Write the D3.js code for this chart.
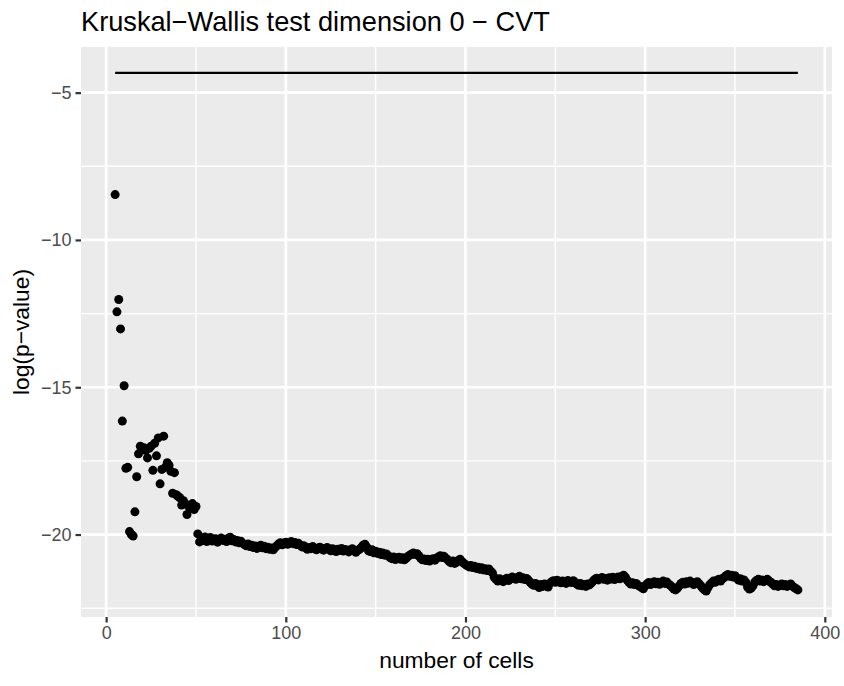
<!DOCTYPE html>
<html>
<head>
<meta charset="utf-8">
<script src="https://cdn.jsdelivr.net/npm/d3@7"></script>
<style>
  body { margin: 0; background: #fff; }
  svg { font-family: "Liberation Sans", Arial, Helvetica, sans-serif; }
</style>
</head>
<body>
<svg id="chart"></svg>
<script>
const title = 'Kruskal\u2212Wallis test dimension 0 \u2212 CVT';
const xLabel = 'number of cells';
const yLabel = 'log(p\u2212value)';

// number of cells goes 5..385, one point each
const cells = d3.range(5, 386);
const logP = [
  -8.46, -12.44, -12.02, -13.02, -16.15, -14.95, -17.75, -17.72, -19.90, -20.00,
  -20.05, -19.23, -18.04, -17.26, -17.00, -17.10, -17.05, -17.15, -17.40, -17.07,
  -17.00, -17.82, -16.90, -17.33, -16.72, -18.28, -17.79, -16.66, -17.71, -17.56,
  -17.65, -17.85, -18.60, -17.90, -18.65, -18.70, -18.75, -19.00, -18.85, -18.95,
  -19.32, -19.05, -19.10, -18.95, -19.15, -19.05, -19.98, -20.25, -20.12, -20.20,
  -20.08, -20.24, -20.15, -20.10, -20.22, -20.18, -20.14, -20.26, -20.19, -20.12,
  -20.20, -20.16, -20.24, -20.13, -20.09, -20.21, -20.17, -20.25, -20.20, -20.28,
  -20.23, -20.30, -20.34, -20.38, -20.32, -20.41, -20.36, -20.44, -20.39, -20.47,
  -20.42, -20.36, -20.45, -20.40, -20.48, -20.43, -20.50, -20.46, -20.52, -20.44,
  -20.38, -20.32, -20.28, -20.35, -20.30, -20.26, -20.33, -20.29, -20.24, -20.31,
  -20.27, -20.34, -20.30, -20.36, -20.42, -20.38, -20.45, -20.50, -20.44, -20.48,
  -20.41, -20.47, -20.52, -20.46, -20.43, -20.49, -20.53, -20.47, -20.44, -20.50,
  -20.55, -20.48, -20.52, -20.58, -20.50, -20.54, -20.47, -20.56, -20.51, -20.53,
  -20.59, -20.52, -20.48, -20.55, -20.60, -20.54, -20.50, -20.45, -20.36, -20.33,
  -20.42, -20.55, -20.58, -20.52, -20.62, -20.57, -20.64, -20.60, -20.68, -20.63,
  -20.70, -20.66, -20.72, -20.78, -20.82, -20.76, -20.85, -20.80, -20.77, -20.84,
  -20.79, -20.86, -20.81, -20.74, -20.70, -20.66, -20.63, -20.68, -20.65, -20.72,
  -20.80, -20.86, -20.83, -20.88, -20.84, -20.90, -20.85, -20.82, -20.87, -20.80,
  -20.76, -20.72, -20.78, -20.74, -20.80, -20.85, -20.92, -20.96, -20.90, -20.98,
  -20.94, -20.88, -20.84, -20.92, -20.97, -21.02, -21.06, -21.10, -21.05, -21.12,
  -21.08, -21.15, -21.11, -21.18, -21.13, -21.20, -21.16, -21.22, -21.17, -21.24,
  -21.30, -21.45, -21.52, -21.58, -21.50, -21.55, -21.60, -21.53, -21.48, -21.56,
  -21.50, -21.44, -21.49, -21.52, -21.46, -21.42, -21.50, -21.47, -21.53, -21.49,
  -21.55, -21.62, -21.68, -21.72, -21.66, -21.74, -21.80, -21.70, -21.76, -21.68,
  -21.73, -21.78, -21.65, -21.60, -21.57, -21.62, -21.55, -21.59, -21.64, -21.58,
  -21.61, -21.66, -21.56, -21.60, -21.63, -21.57, -21.62, -21.68, -21.72, -21.66,
  -21.74, -21.70, -21.76, -21.68, -21.71, -21.65, -21.58, -21.52, -21.48, -21.54,
  -21.50, -21.46, -21.52, -21.49, -21.55, -21.47, -21.51, -21.45, -21.53, -21.48,
  -21.44, -21.50, -21.42, -21.38, -21.45, -21.55, -21.62, -21.68, -21.64, -21.70,
  -21.66, -21.72, -21.76, -21.80, -21.84, -21.74, -21.68, -21.63, -21.70, -21.65,
  -21.60, -21.67, -21.62, -21.69, -21.64, -21.58, -21.66, -21.61, -21.68, -21.72,
  -21.78, -21.85, -21.88, -21.82, -21.74, -21.66, -21.62, -21.68, -21.60, -21.65,
  -21.58, -21.63, -21.70, -21.64, -21.60, -21.67, -21.74, -21.82, -21.88, -21.92,
  -21.80, -21.70, -21.64, -21.58, -21.62, -21.55, -21.52, -21.58, -21.50, -21.46,
  -21.40, -21.36, -21.42, -21.38, -21.44, -21.40, -21.48, -21.55, -21.50, -21.58,
  -21.54, -21.62, -21.78, -21.85, -21.82, -21.74, -21.62, -21.56, -21.52, -21.58,
  -21.54, -21.60, -21.55, -21.52, -21.58, -21.62, -21.68, -21.74, -21.70, -21.76,
  -21.72, -21.68, -21.74, -21.70, -21.76, -21.72, -21.68, -21.75, -21.80, -21.84,
  -21.88
];
// horizontal reference line
const refLine = -4.33;

const xTicks = [0, 100, 200, 300, 400];
const xMinor = [50, 150, 250, 350];
const yTicks = [-20, -15, -10, -5];
const yMinor = [-22.5, -17.5, -12.5, -7.5];

const width = 844, height = 686;
const panel = { left: 81, right: 832, top: 47, bottom: 617 };

const data = cells.map((c, i) => ({ n: c, v: logP[i] }));

//set up container
const svg = d3.select('#chart')
  .attr('width', width)
  .attr('height', height);

svg.append('rect').attr('width', width).attr('height', height).attr('fill', '#fff');

//set up scaling (ggplot style 5% expansion)
const xExt = d3.extent(cells);
const xPad = (xExt[1] - xExt[0]) * 0.05;
const yExt = d3.extent(logP.concat([refLine]));
const yPad = (yExt[1] - yExt[0]) * 0.05;
const xscale = d3.scaleLinear().domain([xExt[0] - xPad, xExt[1] + xPad]).range([panel.left, panel.right]);
const yscale = d3.scaleLinear().domain([yExt[0] - yPad, yExt[1] + yPad]).range([panel.bottom, panel.top]);

//panel background
svg.append('rect')
  .attr('x', panel.left).attr('y', panel.top)
  .attr('width', panel.right - panel.left)
  .attr('height', panel.bottom - panel.top)
  .attr('fill', '#EBEBEB');

//grid lines
const grid = svg.append('g');
grid.selectAll('.vminor').data(xMinor).enter().append('line')
  .attr('x1', d => xscale(d)).attr('x2', d => xscale(d))
  .attr('y1', panel.top).attr('y2', panel.bottom)
  .attr('stroke', '#fff').attr('stroke-width', 1.4);
grid.selectAll('.hminor').data(yMinor).enter().append('line')
  .attr('y1', d => yscale(d)).attr('y2', d => yscale(d))
  .attr('x1', panel.left).attr('x2', panel.right)
  .attr('stroke', '#fff').attr('stroke-width', 1.4);
grid.selectAll('.vmajor').data(xTicks).enter().append('line')
  .attr('x1', d => xscale(d)).attr('x2', d => xscale(d))
  .attr('y1', panel.top).attr('y2', panel.bottom)
  .attr('stroke', '#fff').attr('stroke-width', 2.7);
grid.selectAll('.hmajor').data(yTicks).enter().append('line')
  .attr('y1', d => yscale(d)).attr('y2', d => yscale(d))
  .attr('x1', panel.left).attr('x2', panel.right)
  .attr('stroke', '#fff').attr('stroke-width', 2.7);

//set up axis
const fmt = d => d < 0 ? '\u2212' + Math.abs(d) : String(d);
const xAxis = d3.axisBottom(xscale).tickValues(xTicks).tickSize(5.5).tickPadding(4).tickFormat(fmt);
const yAxis = d3.axisLeft(yscale).tickValues(yTicks).tickSize(5.5).tickPadding(4).tickFormat(fmt);

const gx = svg.append('g').attr('transform', `translate(0,${panel.bottom})`).call(xAxis);
const gy = svg.append('g').attr('transform', `translate(${panel.left},0)`).call(yAxis);
[gx, gy].forEach(g => {
  g.select('.domain').remove();
  g.selectAll('.tick line').attr('stroke', '#333333').attr('stroke-width', 2.2);
  g.selectAll('.tick text')
    .attr('fill', '#4D4D4D')
    .style('font-size', '18px')
    .style('font-family', '"Liberation Sans", Arial, Helvetica, sans-serif');
});

//reference line
svg.append('line')
  .attr('x1', xscale(xExt[0])).attr('x2', xscale(xExt[1]))
  .attr('y1', yscale(refLine)).attr('y2', yscale(refLine))
  .attr('stroke', '#000').attr('stroke-width', 2.4);

//points
svg.append('g').selectAll('circle')
  .data(data)
  .enter()
  .append('circle')
  .attr('cx', d => xscale(d.n))
  .attr('cy', d => yscale(d.v))
  .attr('r', 4.5)
  .attr('fill', '#000');

//labels
svg.append('text')
  .attr('x', panel.left)
  .attr('y', 31)
  .style('font-size', '27.2px')
  .attr('fill', '#000')
  .text(title);

svg.append('text')
  .attr('x', (panel.left + panel.right) / 2)
  .attr('y', 668)
  .attr('text-anchor', 'middle')
  .style('font-size', '22.8px')
  .text(xLabel);

svg.append('text')
  .attr('transform', `translate(29,${(panel.top + panel.bottom) / 2}) rotate(-90)`)
  .attr('text-anchor', 'middle')
  .style('font-size', '22.8px')
  .text(yLabel);
</script>
</body>
</html>
